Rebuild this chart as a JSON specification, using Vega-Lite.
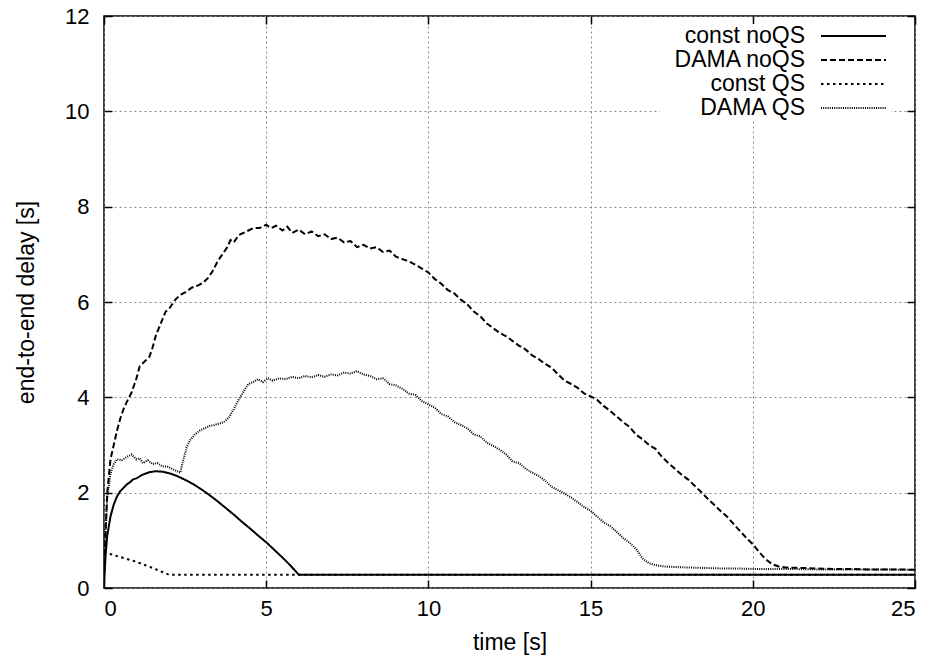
{
  "$schema": "https://vega.github.io/schema/vega-lite/v6.json",
  "width": 811,
  "height": 572,
  "autosize": {"type": "none"},
  "padding": {"left": 104, "top": 16, "right": 21, "bottom": 81},
  "background": "white",
  "config": {
    "font": "Liberation Sans",
    "view": {"stroke": "black", "strokeWidth": 1.5},
    "axis": {
      "labelFont": "Liberation Sans",
      "titleFont": "Liberation Sans",
      "labelFontSize": 22,
      "titleFontSize": 23,
      "labelColor": "black",
      "titleColor": "black",
      "titleFontWeight": "normal",
      "domain": false,
      "gridColor": "#888888",
      "gridDash": [2, 3],
      "gridWidth": 1
    }
  },
  "data": {
    "values": [
      {"series": "const noQS", "t": 0, "y": 0.05},
      {"series": "const noQS", "t": 0.05, "y": 0.7},
      {"series": "const noQS", "t": 0.1, "y": 1.1},
      {"series": "const noQS", "t": 0.2, "y": 1.5},
      {"series": "const noQS", "t": 0.3, "y": 1.75},
      {"series": "const noQS", "t": 0.4, "y": 1.92},
      {"series": "const noQS", "t": 0.5, "y": 2.03},
      {"series": "const noQS", "t": 0.6, "y": 2.1},
      {"series": "const noQS", "t": 0.7, "y": 2.17},
      {"series": "const noQS", "t": 0.8, "y": 2.22},
      {"series": "const noQS", "t": 0.9, "y": 2.28},
      {"series": "const noQS", "t": 1.0, "y": 2.3},
      {"series": "const noQS", "t": 1.2, "y": 2.38},
      {"series": "const noQS", "t": 1.4, "y": 2.43},
      {"series": "const noQS", "t": 1.6, "y": 2.45},
      {"series": "const noQS", "t": 1.8, "y": 2.44},
      {"series": "const noQS", "t": 2.0, "y": 2.41},
      {"series": "const noQS", "t": 2.25, "y": 2.35},
      {"series": "const noQS", "t": 2.5, "y": 2.27},
      {"series": "const noQS", "t": 2.75, "y": 2.18},
      {"series": "const noQS", "t": 3.0, "y": 2.07},
      {"series": "const noQS", "t": 3.25, "y": 1.95},
      {"series": "const noQS", "t": 3.5, "y": 1.82},
      {"series": "const noQS", "t": 3.75, "y": 1.68},
      {"series": "const noQS", "t": 4.0, "y": 1.54},
      {"series": "const noQS", "t": 4.25, "y": 1.39},
      {"series": "const noQS", "t": 4.5, "y": 1.25},
      {"series": "const noQS", "t": 4.75, "y": 1.1},
      {"series": "const noQS", "t": 5.0, "y": 0.96},
      {"series": "const noQS", "t": 5.25, "y": 0.8},
      {"series": "const noQS", "t": 5.5, "y": 0.64},
      {"series": "const noQS", "t": 5.75, "y": 0.47},
      {"series": "const noQS", "t": 6.0, "y": 0.28},
      {"series": "const noQS", "t": 25, "y": 0.28},

      {"series": "DAMA noQS", "t": 0, "y": 0.3},
      {"series": "DAMA noQS", "t": 0.05, "y": 1.2},
      {"series": "DAMA noQS", "t": 0.1, "y": 2.0},
      {"series": "DAMA noQS", "t": 0.2, "y": 2.7},
      {"series": "DAMA noQS", "t": 0.3, "y": 3.0},
      {"series": "DAMA noQS", "t": 0.4, "y": 3.3},
      {"series": "DAMA noQS", "t": 0.5, "y": 3.55},
      {"series": "DAMA noQS", "t": 0.6, "y": 3.75},
      {"series": "DAMA noQS", "t": 0.7, "y": 3.9},
      {"series": "DAMA noQS", "t": 0.85, "y": 4.1},
      {"series": "DAMA noQS", "t": 1.0, "y": 4.4},
      {"series": "DAMA noQS", "t": 1.1, "y": 4.65},
      {"series": "DAMA noQS", "t": 1.25, "y": 4.75},
      {"series": "DAMA noQS", "t": 1.4, "y": 4.85},
      {"series": "DAMA noQS", "t": 1.5, "y": 5.05},
      {"series": "DAMA noQS", "t": 1.6, "y": 5.3},
      {"series": "DAMA noQS", "t": 1.75, "y": 5.55},
      {"series": "DAMA noQS", "t": 1.9, "y": 5.8},
      {"series": "DAMA noQS", "t": 2.0, "y": 5.85},
      {"series": "DAMA noQS", "t": 2.2, "y": 6.05},
      {"series": "DAMA noQS", "t": 2.35, "y": 6.15},
      {"series": "DAMA noQS", "t": 2.5, "y": 6.2},
      {"series": "DAMA noQS", "t": 2.7, "y": 6.3},
      {"series": "DAMA noQS", "t": 2.9, "y": 6.35},
      {"series": "DAMA noQS", "t": 3.05, "y": 6.4},
      {"series": "DAMA noQS", "t": 3.2, "y": 6.5},
      {"series": "DAMA noQS", "t": 3.35, "y": 6.65},
      {"series": "DAMA noQS", "t": 3.5, "y": 6.85},
      {"series": "DAMA noQS", "t": 3.65, "y": 7.0},
      {"series": "DAMA noQS", "t": 3.8, "y": 7.15},
      {"series": "DAMA noQS", "t": 3.9, "y": 7.3},
      {"series": "DAMA noQS", "t": 4.0, "y": 7.25},
      {"series": "DAMA noQS", "t": 4.15, "y": 7.4},
      {"series": "DAMA noQS", "t": 4.3, "y": 7.45},
      {"series": "DAMA noQS", "t": 4.45, "y": 7.5},
      {"series": "DAMA noQS", "t": 4.6, "y": 7.55},
      {"series": "DAMA noQS", "t": 4.8, "y": 7.55},
      {"series": "DAMA noQS", "t": 5.0, "y": 7.62},
      {"series": "DAMA noQS", "t": 5.15, "y": 7.55},
      {"series": "DAMA noQS", "t": 5.3, "y": 7.6},
      {"series": "DAMA noQS", "t": 5.5, "y": 7.5},
      {"series": "DAMA noQS", "t": 5.65, "y": 7.58},
      {"series": "DAMA noQS", "t": 5.8, "y": 7.45},
      {"series": "DAMA noQS", "t": 6.0, "y": 7.52},
      {"series": "DAMA noQS", "t": 6.2, "y": 7.42},
      {"series": "DAMA noQS", "t": 6.4, "y": 7.48},
      {"series": "DAMA noQS", "t": 6.6, "y": 7.38},
      {"series": "DAMA noQS", "t": 6.8, "y": 7.42},
      {"series": "DAMA noQS", "t": 7.0, "y": 7.32},
      {"series": "DAMA noQS", "t": 7.2, "y": 7.35},
      {"series": "DAMA noQS", "t": 7.4, "y": 7.25},
      {"series": "DAMA noQS", "t": 7.6, "y": 7.28},
      {"series": "DAMA noQS", "t": 7.8, "y": 7.15},
      {"series": "DAMA noQS", "t": 8.0, "y": 7.2},
      {"series": "DAMA noQS", "t": 8.2, "y": 7.12},
      {"series": "DAMA noQS", "t": 8.4, "y": 7.15},
      {"series": "DAMA noQS", "t": 8.6, "y": 7.05},
      {"series": "DAMA noQS", "t": 8.8, "y": 7.08},
      {"series": "DAMA noQS", "t": 9.0, "y": 6.95},
      {"series": "DAMA noQS", "t": 9.2, "y": 6.9},
      {"series": "DAMA noQS", "t": 9.4, "y": 6.85},
      {"series": "DAMA noQS", "t": 9.6, "y": 6.78},
      {"series": "DAMA noQS", "t": 9.8, "y": 6.7},
      {"series": "DAMA noQS", "t": 10.0, "y": 6.62},
      {"series": "DAMA noQS", "t": 10.2, "y": 6.48},
      {"series": "DAMA noQS", "t": 10.4, "y": 6.38},
      {"series": "DAMA noQS", "t": 10.6, "y": 6.25},
      {"series": "DAMA noQS", "t": 10.8, "y": 6.18},
      {"series": "DAMA noQS", "t": 11.0, "y": 6.05},
      {"series": "DAMA noQS", "t": 11.2, "y": 5.95},
      {"series": "DAMA noQS", "t": 11.4, "y": 5.8},
      {"series": "DAMA noQS", "t": 11.6, "y": 5.7},
      {"series": "DAMA noQS", "t": 11.8, "y": 5.55},
      {"series": "DAMA noQS", "t": 12.0, "y": 5.45},
      {"series": "DAMA noQS", "t": 12.2, "y": 5.35},
      {"series": "DAMA noQS", "t": 12.4, "y": 5.28},
      {"series": "DAMA noQS", "t": 12.6, "y": 5.18},
      {"series": "DAMA noQS", "t": 12.8, "y": 5.08},
      {"series": "DAMA noQS", "t": 13.0, "y": 5.0},
      {"series": "DAMA noQS", "t": 13.2, "y": 4.88},
      {"series": "DAMA noQS", "t": 13.4, "y": 4.8},
      {"series": "DAMA noQS", "t": 13.6, "y": 4.7},
      {"series": "DAMA noQS", "t": 13.8, "y": 4.62},
      {"series": "DAMA noQS", "t": 14.0, "y": 4.48},
      {"series": "DAMA noQS", "t": 14.2, "y": 4.35},
      {"series": "DAMA noQS", "t": 14.4, "y": 4.28},
      {"series": "DAMA noQS", "t": 14.6, "y": 4.2},
      {"series": "DAMA noQS", "t": 14.8, "y": 4.08},
      {"series": "DAMA noQS", "t": 15.0, "y": 4.02},
      {"series": "DAMA noQS", "t": 15.2, "y": 3.95},
      {"series": "DAMA noQS", "t": 15.4, "y": 3.82},
      {"series": "DAMA noQS", "t": 15.6, "y": 3.72},
      {"series": "DAMA noQS", "t": 15.8, "y": 3.6},
      {"series": "DAMA noQS", "t": 16.0, "y": 3.48},
      {"series": "DAMA noQS", "t": 16.2, "y": 3.38},
      {"series": "DAMA noQS", "t": 16.4, "y": 3.22},
      {"series": "DAMA noQS", "t": 16.6, "y": 3.12},
      {"series": "DAMA noQS", "t": 16.8, "y": 3.0},
      {"series": "DAMA noQS", "t": 17.0, "y": 2.92},
      {"series": "DAMA noQS", "t": 17.2, "y": 2.75},
      {"series": "DAMA noQS", "t": 17.4, "y": 2.62},
      {"series": "DAMA noQS", "t": 17.6, "y": 2.5},
      {"series": "DAMA noQS", "t": 17.8, "y": 2.38},
      {"series": "DAMA noQS", "t": 18.0, "y": 2.28},
      {"series": "DAMA noQS", "t": 18.2, "y": 2.15},
      {"series": "DAMA noQS", "t": 18.4, "y": 2.02},
      {"series": "DAMA noQS", "t": 18.6, "y": 1.88},
      {"series": "DAMA noQS", "t": 18.8, "y": 1.75},
      {"series": "DAMA noQS", "t": 19.0, "y": 1.62},
      {"series": "DAMA noQS", "t": 19.2, "y": 1.5},
      {"series": "DAMA noQS", "t": 19.4, "y": 1.35},
      {"series": "DAMA noQS", "t": 19.6, "y": 1.2},
      {"series": "DAMA noQS", "t": 19.8, "y": 1.05},
      {"series": "DAMA noQS", "t": 20.0, "y": 0.92},
      {"series": "DAMA noQS", "t": 20.2, "y": 0.75},
      {"series": "DAMA noQS", "t": 20.4, "y": 0.6},
      {"series": "DAMA noQS", "t": 20.6, "y": 0.5},
      {"series": "DAMA noQS", "t": 20.8, "y": 0.45},
      {"series": "DAMA noQS", "t": 21.0, "y": 0.43},
      {"series": "DAMA noQS", "t": 21.5, "y": 0.42},
      {"series": "DAMA noQS", "t": 22.0, "y": 0.41},
      {"series": "DAMA noQS", "t": 22.5, "y": 0.4},
      {"series": "DAMA noQS", "t": 23.0, "y": 0.4},
      {"series": "DAMA noQS", "t": 23.5, "y": 0.39},
      {"series": "DAMA noQS", "t": 24.0, "y": 0.39},
      {"series": "DAMA noQS", "t": 24.5, "y": 0.39},
      {"series": "DAMA noQS", "t": 25.0, "y": 0.38},

      {"series": "const QS", "t": 0, "y": 0.75},
      {"series": "const QS", "t": 0.5, "y": 0.65},
      {"series": "const QS", "t": 1.0, "y": 0.55},
      {"series": "const QS", "t": 1.5, "y": 0.42},
      {"series": "const QS", "t": 2.0, "y": 0.28},
      {"series": "const QS", "t": 25, "y": 0.28},

      {"series": "DAMA QS", "t": 0, "y": 0.3},
      {"series": "DAMA QS", "t": 0.05, "y": 1.2},
      {"series": "DAMA QS", "t": 0.1, "y": 1.9},
      {"series": "DAMA QS", "t": 0.2, "y": 2.4},
      {"series": "DAMA QS", "t": 0.3, "y": 2.6},
      {"series": "DAMA QS", "t": 0.4, "y": 2.7},
      {"series": "DAMA QS", "t": 0.55, "y": 2.68},
      {"series": "DAMA QS", "t": 0.7, "y": 2.75},
      {"series": "DAMA QS", "t": 0.85, "y": 2.8},
      {"series": "DAMA QS", "t": 1.0, "y": 2.7},
      {"series": "DAMA QS", "t": 1.1, "y": 2.72},
      {"series": "DAMA QS", "t": 1.2, "y": 2.62},
      {"series": "DAMA QS", "t": 1.35, "y": 2.68},
      {"series": "DAMA QS", "t": 1.5, "y": 2.6},
      {"series": "DAMA QS", "t": 1.65, "y": 2.62},
      {"series": "DAMA QS", "t": 1.8, "y": 2.55},
      {"series": "DAMA QS", "t": 1.95, "y": 2.55},
      {"series": "DAMA QS", "t": 2.1, "y": 2.5},
      {"series": "DAMA QS", "t": 2.25, "y": 2.45},
      {"series": "DAMA QS", "t": 2.35, "y": 2.42},
      {"series": "DAMA QS", "t": 2.45, "y": 2.7},
      {"series": "DAMA QS", "t": 2.55, "y": 2.95},
      {"series": "DAMA QS", "t": 2.65, "y": 3.1},
      {"series": "DAMA QS", "t": 2.8, "y": 3.22},
      {"series": "DAMA QS", "t": 2.95, "y": 3.3},
      {"series": "DAMA QS", "t": 3.1, "y": 3.35},
      {"series": "DAMA QS", "t": 3.25, "y": 3.4},
      {"series": "DAMA QS", "t": 3.4, "y": 3.42},
      {"series": "DAMA QS", "t": 3.55, "y": 3.45},
      {"series": "DAMA QS", "t": 3.7, "y": 3.48},
      {"series": "DAMA QS", "t": 3.85, "y": 3.58},
      {"series": "DAMA QS", "t": 4.0, "y": 3.75},
      {"series": "DAMA QS", "t": 4.15, "y": 3.95},
      {"series": "DAMA QS", "t": 4.3, "y": 4.12},
      {"series": "DAMA QS", "t": 4.45, "y": 4.28},
      {"series": "DAMA QS", "t": 4.6, "y": 4.32},
      {"series": "DAMA QS", "t": 4.75, "y": 4.38},
      {"series": "DAMA QS", "t": 4.9, "y": 4.32},
      {"series": "DAMA QS", "t": 5.05, "y": 4.4},
      {"series": "DAMA QS", "t": 5.2, "y": 4.35},
      {"series": "DAMA QS", "t": 5.4, "y": 4.4},
      {"series": "DAMA QS", "t": 5.6, "y": 4.38},
      {"series": "DAMA QS", "t": 5.8, "y": 4.43},
      {"series": "DAMA QS", "t": 6.0, "y": 4.4},
      {"series": "DAMA QS", "t": 6.2, "y": 4.45},
      {"series": "DAMA QS", "t": 6.4, "y": 4.42},
      {"series": "DAMA QS", "t": 6.6, "y": 4.47},
      {"series": "DAMA QS", "t": 6.8, "y": 4.43},
      {"series": "DAMA QS", "t": 7.0, "y": 4.48},
      {"series": "DAMA QS", "t": 7.2, "y": 4.46},
      {"series": "DAMA QS", "t": 7.4, "y": 4.52},
      {"series": "DAMA QS", "t": 7.6, "y": 4.5},
      {"series": "DAMA QS", "t": 7.8, "y": 4.55},
      {"series": "DAMA QS", "t": 8.0, "y": 4.48},
      {"series": "DAMA QS", "t": 8.2, "y": 4.45},
      {"series": "DAMA QS", "t": 8.4, "y": 4.38},
      {"series": "DAMA QS", "t": 8.6, "y": 4.4},
      {"series": "DAMA QS", "t": 8.8, "y": 4.28},
      {"series": "DAMA QS", "t": 9.0, "y": 4.25},
      {"series": "DAMA QS", "t": 9.2, "y": 4.18},
      {"series": "DAMA QS", "t": 9.4, "y": 4.08},
      {"series": "DAMA QS", "t": 9.6, "y": 4.05},
      {"series": "DAMA QS", "t": 9.8, "y": 3.92},
      {"series": "DAMA QS", "t": 10.0, "y": 3.85},
      {"series": "DAMA QS", "t": 10.2, "y": 3.78},
      {"series": "DAMA QS", "t": 10.4, "y": 3.65},
      {"series": "DAMA QS", "t": 10.6, "y": 3.6},
      {"series": "DAMA QS", "t": 10.8, "y": 3.48},
      {"series": "DAMA QS", "t": 11.0, "y": 3.42},
      {"series": "DAMA QS", "t": 11.2, "y": 3.35},
      {"series": "DAMA QS", "t": 11.4, "y": 3.22},
      {"series": "DAMA QS", "t": 11.6, "y": 3.18},
      {"series": "DAMA QS", "t": 11.8, "y": 3.05},
      {"series": "DAMA QS", "t": 12.0, "y": 2.98},
      {"series": "DAMA QS", "t": 12.2, "y": 2.9},
      {"series": "DAMA QS", "t": 12.4, "y": 2.8},
      {"series": "DAMA QS", "t": 12.6, "y": 2.65},
      {"series": "DAMA QS", "t": 12.8, "y": 2.62},
      {"series": "DAMA QS", "t": 13.0, "y": 2.5},
      {"series": "DAMA QS", "t": 13.2, "y": 2.42},
      {"series": "DAMA QS", "t": 13.4, "y": 2.35},
      {"series": "DAMA QS", "t": 13.6, "y": 2.25},
      {"series": "DAMA QS", "t": 13.8, "y": 2.12},
      {"series": "DAMA QS", "t": 14.0, "y": 2.05},
      {"series": "DAMA QS", "t": 14.2, "y": 1.98},
      {"series": "DAMA QS", "t": 14.4, "y": 1.9},
      {"series": "DAMA QS", "t": 14.6, "y": 1.8},
      {"series": "DAMA QS", "t": 14.8, "y": 1.7},
      {"series": "DAMA QS", "t": 15.0, "y": 1.62},
      {"series": "DAMA QS", "t": 15.2, "y": 1.5},
      {"series": "DAMA QS", "t": 15.4, "y": 1.38},
      {"series": "DAMA QS", "t": 15.6, "y": 1.3},
      {"series": "DAMA QS", "t": 15.8, "y": 1.18},
      {"series": "DAMA QS", "t": 16.0, "y": 1.05},
      {"series": "DAMA QS", "t": 16.2, "y": 0.95},
      {"series": "DAMA QS", "t": 16.4, "y": 0.82},
      {"series": "DAMA QS", "t": 16.6, "y": 0.62},
      {"series": "DAMA QS", "t": 16.8, "y": 0.52},
      {"series": "DAMA QS", "t": 17.0, "y": 0.48},
      {"series": "DAMA QS", "t": 17.3, "y": 0.45},
      {"series": "DAMA QS", "t": 17.6, "y": 0.44},
      {"series": "DAMA QS", "t": 18.0, "y": 0.43},
      {"series": "DAMA QS", "t": 18.5, "y": 0.42},
      {"series": "DAMA QS", "t": 19.0, "y": 0.41},
      {"series": "DAMA QS", "t": 19.5, "y": 0.41},
      {"series": "DAMA QS", "t": 20.0, "y": 0.4},
      {"series": "DAMA QS", "t": 20.5, "y": 0.4},
      {"series": "DAMA QS", "t": 21.0, "y": 0.4},
      {"series": "DAMA QS", "t": 22.0, "y": 0.39},
      {"series": "DAMA QS", "t": 23.0, "y": 0.39},
      {"series": "DAMA QS", "t": 24.0, "y": 0.39},
      {"series": "DAMA QS", "t": 25.0, "y": 0.38}
    ]
  },
  "layer": [
    {
      "mark": {"type": "line", "color": "black", "clip": true},
      "encoding": {
        "x": {
          "field": "t", "type": "quantitative",
          "scale": {"domain": [0, 25], "nice": false},
          "axis": {"orient": "bottom", "title": "time [s]", "values": [0, 5, 10, 15, 20, 25], "grid": true, "ticks": false, "labelPadding": 10, "titlePadding": 12}
        },
        "y": {
          "field": "y", "type": "quantitative",
          "scale": {"domain": [0, 12], "nice": false},
          "axis": {"orient": "left", "title": "end-to-end delay [s]", "values": [0, 2, 4, 6, 8, 10, 12], "grid": true, "ticks": false, "labelPadding": 15, "titlePadding": 26}
        },
        "strokeDash": {
          "field": "series", "type": "nominal",
          "scale": {"domain": ["const noQS", "DAMA noQS", "const QS", "DAMA QS"], "range": [[1, 0], [6, 3], [2.5, 3.5], [1, 1.2]]},
          "legend": {
            "title": null,
            "orient": "none",
            "legendX": 556,
            "legendY": 8,
            "symbolType": "M-1,0H4.91",
            "symbolSize": 484,
            "symbolOffset": 160,
            "symbolStrokeColor": "black",
            "symbolFillColor": "transparent",
            "symbolStrokeWidth": 1.5,
            "rowPadding": 0,
            "labelFont": "Liberation Sans",
            "labelFontSize": 23,
            "labelColor": "black",
            "labelAlign": "right",
            "labelOffset": -39,
            "labelLimit": 300,
            "fillColor": "white",
            "padding": 0
          }
        },
        "strokeWidth": {
          "field": "series", "type": "nominal",
          "scale": {"domain": ["const noQS", "DAMA noQS", "const QS", "DAMA QS"], "range": [2, 2, 1.6, 1.3]},
          "legend": null
        }
      }
    },
    {
      "mark": {"type": "line", "opacity": 0},
      "encoding": {
        "x": {
          "field": "t", "type": "quantitative",
          "scale": {"domain": [0, 25], "nice": false},
          "axis": {"orient": "top", "offset": -8, "title": null, "labels": false, "values": [0, 5, 10, 15, 20, 25], "grid": false, "ticks": true, "tickSize": 8, "tickColor": "black", "tickWidth": 1.5, "tickOpacity": 1}
        },
        "y": {
          "field": "y", "type": "quantitative",
          "scale": {"domain": [0, 12], "nice": false},
          "axis": {"orient": "right", "offset": -8, "title": null, "labels": false, "values": [0, 2, 4, 6, 8, 10, 12], "grid": false, "ticks": true, "tickSize": 8, "tickColor": "black", "tickWidth": 1.5, "tickOpacity": 1}
        },
        "detail": {"field": "series"}
      }
    },
    {
      "mark": {"type": "line", "opacity": 0},
      "encoding": {
        "x": {
          "field": "t", "type": "quantitative",
          "scale": {"domain": [0, 25], "nice": false},
          "axis": {"orient": "bottom", "offset": -8, "title": null, "labels": false, "values": [0, 5, 10, 15, 20, 25], "grid": false, "ticks": true, "tickSize": 8, "tickColor": "black", "tickWidth": 1.5, "tickOpacity": 1}
        },
        "y": {
          "field": "y", "type": "quantitative",
          "scale": {"domain": [0, 12], "nice": false},
          "axis": {"orient": "left", "offset": -8, "title": null, "labels": false, "values": [0, 2, 4, 6, 8, 10, 12], "grid": false, "ticks": true, "tickSize": 8, "tickColor": "black", "tickWidth": 1.5, "tickOpacity": 1}
        },
        "detail": {"field": "series"}
      }
    }
  ],
  "resolve": {"axis": {"x": "independent", "y": "independent"}}
}
